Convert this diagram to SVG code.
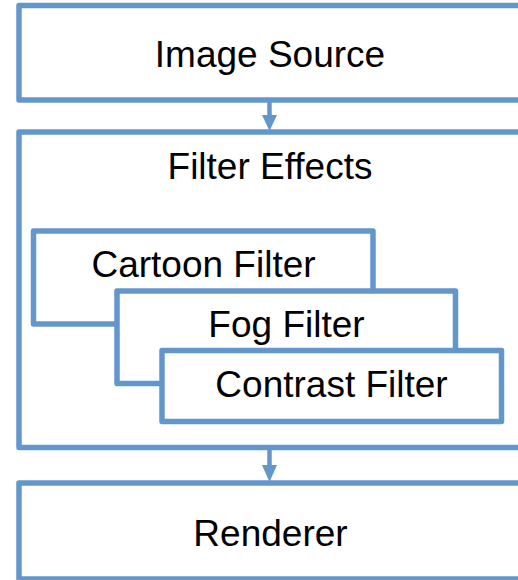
<svg xmlns="http://www.w3.org/2000/svg" width="518" height="580" viewBox="0 0 518 580">
<style>
.box{fill:#ffffff;stroke:#6397cb;stroke-width:5.5;stroke-linejoin:round}
.lbl{font-family:"Liberation Sans",Arial,sans-serif;font-size:37px;fill:#000000;text-anchor:middle}
.conn{stroke:#6397cb;stroke-width:4.5;fill:none}
.head{fill:#6397cb}
</style>
<rect width="518" height="580" fill="#ffffff"/>
<g id="image-source">
<rect class="box" x="19" y="5.5" width="520" height="94.5"/>
<text class="lbl" x="270" y="66.5">Image Source</text>
</g>
<g id="filter-effects">
<rect class="box" x="19" y="132" width="520" height="315.5"/>
<text class="lbl" x="270" y="178.5">Filter Effects</text>
</g>
<g id="cartoon-filter">
<rect class="box" x="33.5" y="231" width="339.5" height="93"/>
<text class="lbl" x="203.5" y="277">Cartoon Filter</text>
</g>
<g id="fog-filter">
<rect class="box" x="117" y="291" width="338.5" height="92.5"/>
<text class="lbl" x="286.5" y="336.5">Fog Filter</text>
</g>
<g id="contrast-filter">
<rect class="box" x="162" y="350.5" width="339.5" height="71"/>
<text class="lbl" x="331.5" y="396.5">Contrast Filter</text>
</g>
<g id="renderer">
<rect class="box" x="19" y="483" width="520" height="96"/>
<text class="lbl" x="270.5" y="546">Renderer</text>
</g>
<g id="connectors">
<line class="conn" x1="269.5" y1="102" x2="269.5" y2="117"/>
<polygon class="head" points="262,115 277,115 269.5,131"/>
<line class="conn" x1="269.5" y1="450" x2="269.5" y2="467"/>
<polygon class="head" points="262,465 277,465 269.5,482"/>
</g>
</svg>
